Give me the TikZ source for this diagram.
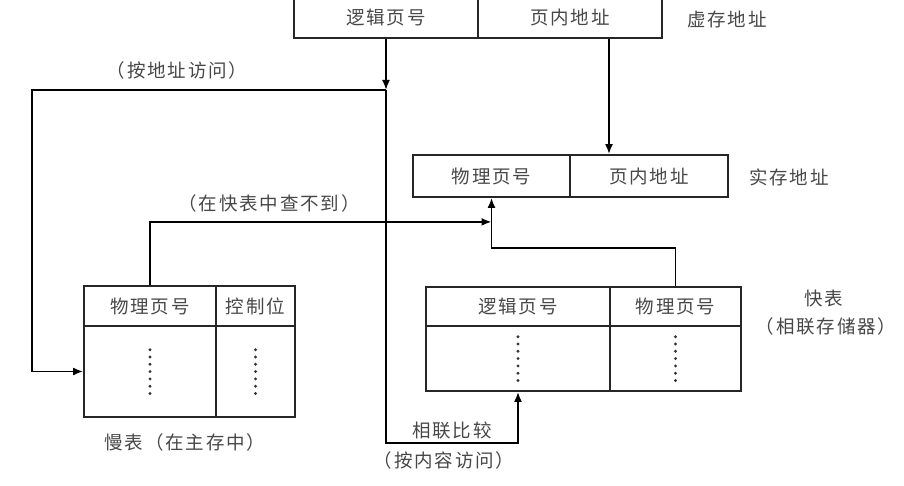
\documentclass[tikz,border=0pt]{standalone}
\usepackage{fontspec}
\setmainfont{Noto Sans CJK SC}[LetterSpace=10]
\usetikzlibrary{arrows.meta}

\begin{document}
\begin{tikzpicture}[x=1pt,y=-1pt,>={Latex[length=10pt,width=8pt]},
	line width=1.8pt,
	every node/.style={font=\fontsize{18.5}{21}\selectfont, text=black!72},
	cell/.style={draw=black!85, inner sep=0pt},
	dots/.style={draw=black!80, line width=3.2pt, line cap=round, dash pattern=on 0pt off 7.3pt}]

\useasboundingbox (0,0) rectangle (904,486);

% virtual address
\node[cell, minimum width=184pt, minimum height=40pt] (V_left) at (386,18) {逻辑页号};
\node[cell, minimum width=184pt, minimum height=40pt] (V_right) at (570,18) {页内地址};
\node (V_label) at (727,19) {虚存地址};

% real address
\node[cell, minimum width=157pt, minimum height=42pt] (P_left) at (491.5,176) {物理页号};
\node[cell, minimum width=158pt, minimum height=42pt] (P_right) at (649,176) {页内地址};
\node (P_label) at (789,177) {实存地址};

% slow table
\node[cell, minimum width=132pt, minimum height=40pt] (S_left) at (150,306) {物理页号};
\node[cell, minimum width=79pt, minimum height=40pt] (S_right) at (255.5,306) {控制位};
\node[cell, minimum width=132pt, minimum height=91pt] (S_body_l) at (150,371.5) {};
\node[cell, minimum width=79pt, minimum height=91pt] (S_body_r) at (255.5,371.5) {};
\node (S_label) at (185,442) {慢表（在主存中）};

% fast table
\node[cell, minimum width=184pt, minimum height=39pt] (F_left) at (518,306.5) {逻辑页号};
\node[cell, minimum width=131pt, minimum height=39pt] (F_right) at (675.5,306.5) {物理页号};
\node[cell, minimum width=184pt, minimum height=65pt] (F_body_l) at (518,358.5) {};
\node[cell, minimum width=131pt, minimum height=65pt] (F_body_r) at (675.5,358.5) {};
\node (F_label) at (824,299) {快表};
\node (F_label2) at (826,326) {（相联存储器）};

\draw[dots] ([yshift=-22pt]S_body_l.center) -- ([yshift=22pt]S_body_l.center);
\draw[dots] ([yshift=-22pt]S_body_r.center) -- ([yshift=22pt]S_body_r.center);
\draw[dots] ([yshift=-22pt]F_body_l.center) -- ([yshift=22pt]F_body_l.center);
\draw[dots] ([yshift=-22pt]F_body_r.center) -- ([yshift=22pt]F_body_r.center);

% connector labels
\node (L_addr) at (177,70) {（按地址访问）};
\node (L_miss) at (269,203) {（在快表中查不到）};
\node (L_cmp) at (452,430) {相联比较};
\node (L_content) at (444,460) {（按内容访问）};

\coordinate (hub) at (386,90);
\coordinate (turn) at (32,90);
\coordinate (cmp) at (386,443);

\draw[->] (V_left.south) -- (hub);
\draw[->] (hub) -- (turn) |- (S_body_l.west);
\draw[->] (hub) -- (cmp) -| (F_body_l.south);
\draw[->] ([xshift=39pt]V_right.south) -- ([xshift=39pt]V_right.south |- P_right.north);
\draw[->] (S_left.north) |- ([yshift=-24pt]P_left.south);
\draw[->] (F_right.north) |- ([yshift=-50pt]P_left.south) -- (P_left.south);

\end{tikzpicture}
\end{document}
